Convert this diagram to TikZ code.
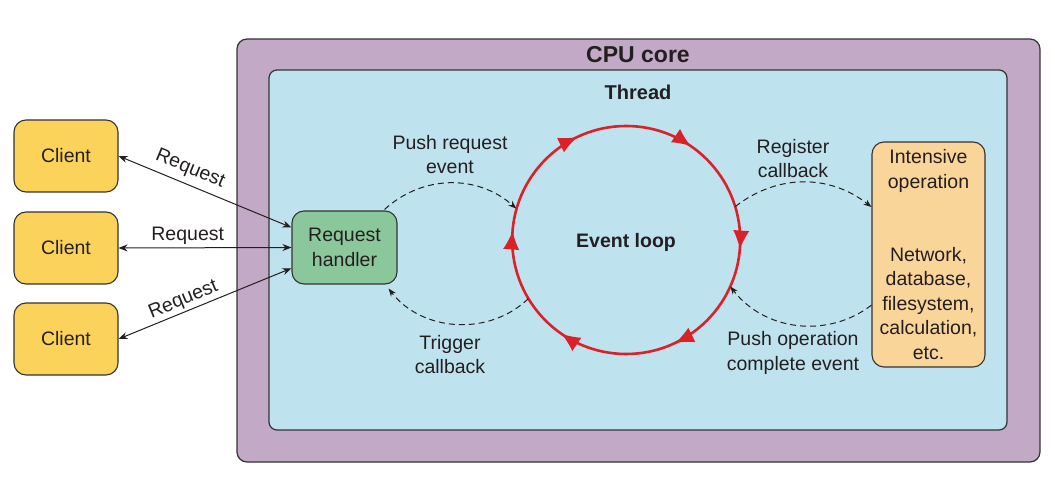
\documentclass[tikz,border=0pt]{standalone}
\usepackage{fontspec}
\setmainfont{Liberation Sans}
\usetikzlibrary{arrows.meta,decorations.markings,calc}
\definecolor{cpu}{HTML}{C2A9C6}
\definecolor{thr}{HTML}{BEE3EE}
\definecolor{cli}{HTML}{FCD35A}
\definecolor{hnd}{HTML}{8AC79B}
\definecolor{opc}{HTML}{FAD59A}
\definecolor{loopred}{HTML}{DA2128}
\definecolor{edge}{HTML}{333333}
\definecolor{ink}{HTML}{231F20}
\begin{document}
\begin{tikzpicture}[x=1pt,y=1pt,
  txt/.style={font=\fontsize{19.5}{24.5}\selectfont, text=ink, align=center},
  box/.style={txt, draw=edge, line width=1.1pt, rounded corners=12pt, inner sep=0pt},
  container/.style={draw=edge, line width=1.2pt, inner sep=0pt},
  req/.style={line width=1pt, draw=ink, {Stealth[length=9pt,width=7pt]}-{Stealth[length=9pt,width=7pt]}},
  dasharrow/.style={draw=ink, dash pattern=on 6pt off 4pt, line width=1pt, -{Stealth[length=8pt,width=6pt]}},
]
\useasboundingbox (0,0) rectangle (1055,485);
% containers
\node[container, fill=cpu, rounded corners=10pt, minimum width=803pt, minimum height=423pt] (cpu) at (638.5,234.5) {};
\node[txt, font=\fontsize{23}{26}\selectfont\bfseries] (cpulbl) at (638,430) {CPU core};
\node[container, fill=thr, rounded corners=8pt, minimum width=738pt, minimum height=360pt] (thread) at (638,235) {};
\node[txt, font=\fontsize{20}{24}\selectfont\bfseries] (thrlbl) at (638,393) {Thread};
% clients
\node[box, fill=cli, minimum width=104pt, minimum height=72pt] (c1) at (66,329) {Client};
\node[box, fill=cli, minimum width=104pt, minimum height=72pt] (c2) at (66,237) {Client};
\node[box, fill=cli, minimum width=104pt, minimum height=72pt] (c3) at (66,146) {Client};
% handler
\node[box, fill=hnd, minimum width=105pt, minimum height=73pt] (h) at (344.5,237.5) {Request\\handler};
% intensive operation
\node[box, fill=opc, minimum width=113pt, minimum height=225pt] (op) at (928.5,230.5) {Intensive\\operation\\[48.5pt]Network,\\database,\\filesystem,\\calculation,\\etc.};
% event loop
\node[circle, minimum size=228pt, inner sep=0pt, txt, text depth=0pt, font=\fontsize{19.5}{24}\selectfont\bfseries] (loop) at (626,245) {Event loop};
\draw[loopred, line width=2.6pt, postaction={decorate},
  decoration={markings, mark=between positions 0.012 and 0.9 step 1/6 with {\arrow{Latex[length=18pt,width=16pt,line width=0pt]}}}]
  (loop.east) arc[start angle=0, end angle=-360, radius=114pt];
% request arrows
\draw[req] (c1.east) -- ($(h.north west)!0.23!(h.south west)$) node[txt, pos=0.38, above, sloped, inner sep=6pt] {Request};
\draw[req] (c2.east) -- (h.west) node[txt, pos=0.4, above, inner sep=3pt] {Request};
\draw[req] (c3.east) -- ($(h.north west)!0.78!(h.south west)$) node[txt, pos=0.4, above, sloped, inner sep=2pt] {Request};
% dashed arcs
\draw[dasharrow] ($(h.north east)+(-13,1)$) to[bend left=42] (loop.164);
\draw[dasharrow] (loop.211) to[bend left=48] ($(h.south east)+(-9,-4)$);
\draw[dasharrow] (loop.17) to[bend left=38] ($(op.north west)!0.29!(op.south west)$);
\draw[dasharrow] ($(op.north west)!0.724!(op.south west)$) to[bend left=45] (loop.-24);
% labels
\node[txt] (l1) at (450,330.5) {Push request\\event};
\node[txt] (l2) at (450,130.5) {Trigger\\callback};
\node[txt] (l3) at (793,326.5) {Register\\callback};
\node[txt] (l4) at (793,132) {Push operation\\complete event};
\end{tikzpicture}
\end{document}
